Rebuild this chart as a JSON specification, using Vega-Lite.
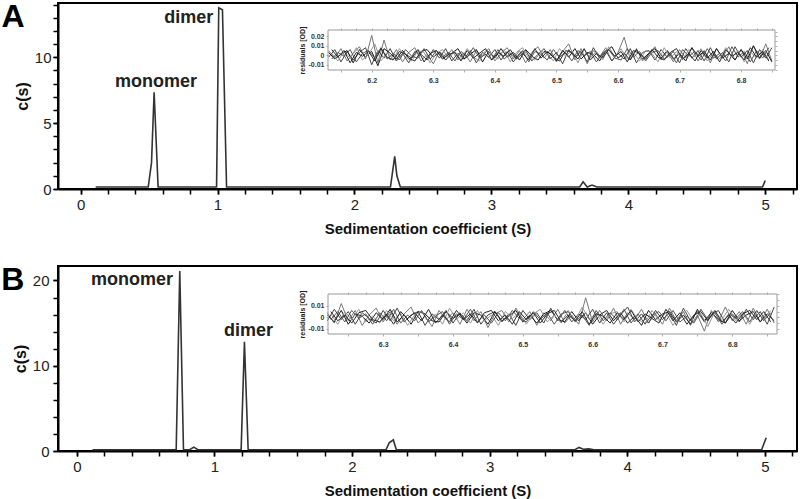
{
  "$schema": "https://vega.github.io/schema/vega-lite/v6.json",
  "background": "white",
  "padding": {"left": 0, "top": -1, "right": 2, "bottom": 0},
  "spacing": 26,
  "config": {
    "font": "Liberation Sans",
    "view": {"stroke": "black", "strokeWidth": 2},
    "axis": {
      "grid": false,
      "domainColor": "black",
      "domainWidth": 2,
      "tickColor": "black",
      "tickWidth": 1.5,
      "tickSize": 5,
      "labelFont": "Liberation Sans",
      "labelFontSize": 15,
      "labelColor": "#222222",
      "titleFont": "Liberation Sans",
      "titleFontSize": 15,
      "titleFontWeight": "bold",
      "titleColor": "#111111"
    }
  },
  "datasets": {
    "mainA": [
      {"s": 0.11, "c": 0.15}, {"s": 0.494, "c": 0.15}, {"s": 0.518, "c": 2.0}, {"s": 0.537, "c": 7.34}, {"s": 0.566, "c": 0.15},
      {"s": 0.993, "c": 0.15}, {"s": 1.009, "c": 13.75}, {"s": 1.036, "c": 13.6}, {"s": 1.066, "c": 0.15},
      {"s": 2.263, "c": 0.15}, {"s": 2.294, "c": 2.48}, {"s": 2.31, "c": 1.0}, {"s": 2.335, "c": 0.15},
      {"s": 3.645, "c": 0.15}, {"s": 3.67, "c": 0.55}, {"s": 3.7, "c": 0.15}, {"s": 3.735, "c": 0.3}, {"s": 3.77, "c": 0.15},
      {"s": 4.98, "c": 0.15}, {"s": 5.0, "c": 0.65}
    ],
    "mainB": [
      {"s": 0.114, "c": 0.15}, {"s": 0.722, "c": 0.15}, {"s": 0.748, "c": 21.1}, {"s": 0.775, "c": 0.15},
      {"s": 0.82, "c": 0.15}, {"s": 0.85, "c": 0.45}, {"s": 0.88, "c": 0.15},
      {"s": 1.194, "c": 0.15}, {"s": 1.218, "c": 12.8}, {"s": 1.245, "c": 0.15},
      {"s": 2.247, "c": 0.15}, {"s": 2.27, "c": 0.95}, {"s": 2.3, "c": 1.3}, {"s": 2.322, "c": 0.15},
      {"s": 3.62, "c": 0.15}, {"s": 3.65, "c": 0.42}, {"s": 3.68, "c": 0.2}, {"s": 3.72, "c": 0.25}, {"s": 3.76, "c": 0.15},
      {"s": 4.977, "c": 0.15}, {"s": 5.01, "c": 1.56}
    ],
    "labA": [
      {"s": 0.55, "c": 8.1, "label": "monomer"},
      {"s": 0.79, "c": 13.0, "label": "dimer"}
    ],
    "labB": [
      {"s": 0.40, "c": 20.0, "label": "monomer"},
      {"s": 1.247, "c": 14.07, "label": "dimer"}
    ],
    "panA": [{"s": -0.494, "c": 12.3, "label": "A"}],
    "panB": [{"s": -0.466, "c": 18.88, "label": "B"}],
    "resA": [
      {"s": 6.13, "a": 0.005, "b": -0.002, "c": 0.003},
      {"s": 6.14, "a": -0.003, "b": 0.006, "c": -0.004},
      {"s": 6.15, "a": 0.007, "b": -0.007, "c": 0.001},
      {"s": 6.16, "a": -0.006, "b": 0.004, "c": 0.005},
      {"s": 6.17, "a": 0.002, "b": -0.005, "c": -0.008},
      {"s": 6.18, "a": 0.009, "b": 0.003, "c": 0.006},
      {"s": 6.19, "a": -0.004, "b": 0.008, "c": -0.002},
      {"s": 6.2, "a": 0.021, "b": -0.01, "c": 0.004},
      {"s": 6.21, "a": -0.008, "b": 0.005, "c": -0.011},
      {"s": 6.22, "a": 0.016, "b": -0.003, "c": 0.007},
      {"s": 6.23, "a": -0.005, "b": 0.007, "c": 0.002},
      {"s": 6.24, "a": 0.006, "b": -0.006, "c": -0.004},
      {"s": 6.25, "a": -0.007, "b": 0.002, "c": 0.005},
      {"s": 6.26, "a": 0.003, "b": -0.008, "c": -0.003},
      {"s": 6.27, "a": 0.008, "b": 0.004, "c": -0.006},
      {"s": 6.28, "a": -0.006, "b": 0.001, "c": 0.004},
      {"s": 6.29, "a": 0.001, "b": -0.005, "c": 0.006},
      {"s": 6.3, "a": -0.009, "b": 0.006, "c": -0.002},
      {"s": 6.31, "a": 0.004, "b": -0.003, "c": 0.003},
      {"s": 6.32, "a": -0.002, "b": 0.007, "c": -0.005},
      {"s": 6.33, "a": 0.006, "b": -0.006, "c": 0.002},
      {"s": 6.34, "a": -0.005, "b": 0.002, "c": 0.007},
      {"s": 6.35, "a": 0.003, "b": -0.004, "c": -0.004},
      {"s": 6.36, "a": -0.007, "b": 0.005, "c": 0.001},
      {"s": 6.37, "a": 0.005, "b": -0.008, "c": 0.006},
      {"s": 6.38, "a": -0.001, "b": 0.003, "c": -0.007},
      {"s": 6.39, "a": 0.007, "b": -0.002, "c": 0.004},
      {"s": 6.4, "a": -0.006, "b": 0.006, "c": -0.003},
      {"s": 6.41, "a": 0.002, "b": -0.005, "c": 0.007},
      {"s": 6.42, "a": 0.008, "b": 0.004, "c": -0.002},
      {"s": 6.43, "a": -0.004, "b": -0.007, "c": 0.003},
      {"s": 6.44, "a": 0.005, "b": 0.002, "c": -0.005},
      {"s": 6.45, "a": -0.008, "b": 0.005, "c": 0.006},
      {"s": 6.46, "a": 0.003, "b": -0.006, "c": -0.001},
      {"s": 6.47, "a": 0.009, "b": 0.001, "c": -0.005},
      {"s": 6.48, "a": -0.003, "b": 0.007, "c": 0.004},
      {"s": 6.49, "a": 0.006, "b": -0.004, "c": 0.002},
      {"s": 6.5, "a": -0.007, "b": 0.003, "c": -0.006},
      {"s": 6.51, "a": 0.004, "b": -0.009, "c": 0.005},
      {"s": 6.52, "a": 0.012, "b": 0.006, "c": -0.002},
      {"s": 6.53, "a": -0.005, "b": -0.002, "c": 0.007},
      {"s": 6.54, "a": 0.007, "b": 0.004, "c": -0.004},
      {"s": 6.55, "a": -0.009, "b": -0.007, "c": 0.003},
      {"s": 6.56, "a": 0.005, "b": 0.008, "c": 0.001},
      {"s": 6.57, "a": -0.002, "b": -0.003, "c": -0.006},
      {"s": 6.58, "a": 0.008, "b": 0.005, "c": 0.004},
      {"s": 6.59, "a": -0.006, "b": -0.006, "c": 0.009},
      {"s": 6.6, "a": 0.003, "b": 0.002, "c": -0.003},
      {"s": 6.61, "a": 0.019, "b": -0.004, "c": 0.002},
      {"s": 6.62, "a": -0.004, "b": 0.007, "c": -0.005},
      {"s": 6.63, "a": 0.007, "b": -0.008, "c": 0.006},
      {"s": 6.64, "a": -0.006, "b": 0.003, "c": -0.004},
      {"s": 6.65, "a": 0.002, "b": 0.005, "c": 0.002},
      {"s": 6.66, "a": 0.009, "b": -0.005, "c": 0.007},
      {"s": 6.67, "a": -0.005, "b": 0.006, "c": -0.003},
      {"s": 6.68, "a": 0.004, "b": -0.002, "c": 0.005},
      {"s": 6.69, "a": -0.007, "b": 0.004, "c": -0.004},
      {"s": 6.7, "a": 0.006, "b": -0.008, "c": 0.002},
      {"s": 6.71, "a": -0.003, "b": 0.007, "c": -0.006},
      {"s": 6.72, "a": 0.008, "b": -0.003, "c": 0.008},
      {"s": 6.73, "a": -0.006, "b": 0.005, "c": -0.001},
      {"s": 6.74, "a": 0.005, "b": -0.006, "c": 0.004},
      {"s": 6.75, "a": -0.008, "b": 0.008, "c": -0.005},
      {"s": 6.76, "a": 0.007, "b": -0.004, "c": 0.007},
      {"s": 6.77, "a": -0.002, "b": 0.003, "c": -0.003},
      {"s": 6.78, "a": 0.009, "b": -0.007, "c": 0.002},
      {"s": 6.79, "a": -0.005, "b": 0.009, "c": -0.005},
      {"s": 6.8, "a": 0.006, "b": -0.002, "c": 0.006},
      {"s": 6.81, "a": -0.009, "b": 0.005, "c": -0.004},
      {"s": 6.82, "a": 0.01, "b": -0.008, "c": 0.01},
      {"s": 6.83, "a": -0.004, "b": 0.006, "c": -0.003},
      {"s": 6.84, "a": 0.012, "b": -0.003, "c": 0.005},
      {"s": 6.85, "a": -0.006, "b": 0.008, "c": -0.007}
    ],
    "resA2": [
      {"s": 6.135, "d": 0.002, "e": -0.004, "f": 0.006},
      {"s": 6.145, "d": -0.006, "e": 0.003, "f": -0.002},
      {"s": 6.155, "d": 0.004, "e": -0.001, "f": 0.005},
      {"s": 6.165, "d": -0.003, "e": 0.006, "f": -0.008},
      {"s": 6.175, "d": 0.008, "e": -0.007, "f": 0.003},
      {"s": 6.185, "d": -0.005, "e": 0.002, "f": -0.001},
      {"s": 6.195, "d": 0.001, "e": 0.005, "f": 0.004},
      {"s": 6.205, "d": 0.012, "e": -0.003, "f": -0.006},
      {"s": 6.215, "d": -0.006, "e": 0.008, "f": 0.007},
      {"s": 6.225, "d": 0.003, "e": -0.004, "f": -0.002},
      {"s": 6.235, "d": -0.004, "e": 0.002, "f": -0.005},
      {"s": 6.245, "d": 0.007, "e": -0.005, "f": 0.004},
      {"s": 6.255, "d": -0.002, "e": 0.006, "f": 0.001},
      {"s": 6.265, "d": -0.006, "e": -0.001, "f": -0.003},
      {"s": 6.275, "d": 0.005, "e": -0.003, "f": 0.006},
      {"s": 6.285, "d": 0.003, "e": 0.007, "f": -0.007},
      {"s": 6.295, "d": -0.008, "e": -0.004, "f": 0.002},
      {"s": 6.305, "d": 0.002, "e": 0.005, "f": 0.005},
      {"s": 6.315, "d": 0.006, "e": -0.002, "f": -0.004},
      {"s": 6.325, "d": -0.003, "e": 0.003, "f": 0.001},
      {"s": 6.335, "d": 0.004, "e": -0.006, "f": 0.003},
      {"s": 6.345, "d": -0.005, "e": 0.004, "f": -0.006},
      {"s": 6.355, "d": 0.007, "e": -0.002, "f": 0.005},
      {"s": 6.365, "d": -0.002, "e": 0.008, "f": -0.003},
      {"s": 6.375, "d": -0.006, "e": -0.003, "f": 0.002},
      {"s": 6.385, "d": 0.005, "e": 0.001, "f": 0.007},
      {"s": 6.395, "d": 0.001, "e": -0.005, "f": -0.005},
      {"s": 6.405, "d": -0.004, "e": 0.006, "f": 0.003},
      {"s": 6.415, "d": 0.006, "e": -0.004, "f": -0.001},
      {"s": 6.425, "d": -0.007, "e": 0.002, "f": 0.006},
      {"s": 6.435, "d": 0.003, "e": -0.003, "f": -0.004},
      {"s": 6.445, "d": 0.008, "e": 0.005, "f": 0.002},
      {"s": 6.455, "d": -0.003, "e": -0.007, "f": -0.005},
      {"s": 6.465, "d": -0.005, "e": 0.004, "f": 0.007},
      {"s": 6.475, "d": 0.004, "e": 0.001, "f": -0.003},
      {"s": 6.485, "d": 0.002, "e": -0.005, "f": 0.004},
      {"s": 6.495, "d": -0.006, "e": 0.006, "f": -0.002},
      {"s": 6.505, "d": 0.007, "e": -0.002, "f": -0.006},
      {"s": 6.515, "d": -0.001, "e": 0.003, "f": 0.005},
      {"s": 6.525, "d": 0.005, "e": -0.006, "f": 0.003},
      {"s": 6.535, "d": -0.008, "e": 0.005, "f": -0.004},
      {"s": 6.545, "d": 0.006, "e": -0.001, "f": 0.007},
      {"s": 6.555, "d": -0.003, "e": 0.004, "f": -0.005},
      {"s": 6.565, "d": 0.004, "e": -0.007, "f": 0.002},
      {"s": 6.575, "d": -0.005, "e": 0.002, "f": -0.003},
      {"s": 6.585, "d": 0.009, "e": 0.006, "f": 0.006},
      {"s": 6.595, "d": -0.002, "e": -0.003, "f": -0.001},
      {"s": 6.605, "d": 0.007, "e": -0.005, "f": 0.004},
      {"s": 6.615, "d": -0.004, "e": 0.007, "f": -0.007},
      {"s": 6.625, "d": 0.003, "e": -0.002, "f": 0.005},
      {"s": 6.635, "d": -0.006, "e": 0.004, "f": 0.002},
      {"s": 6.645, "d": 0.005, "e": -0.006, "f": -0.004},
      {"s": 6.655, "d": 0.002, "e": 0.003, "f": 0.006},
      {"s": 6.665, "d": -0.007, "e": 0.005, "f": -0.002},
      {"s": 6.675, "d": 0.008, "e": -0.004, "f": -0.005},
      {"s": 6.685, "d": -0.003, "e": 0.002, "f": 0.003},
      {"s": 6.695, "d": 0.004, "e": -0.008, "f": 0.007},
      {"s": 6.705, "d": -0.005, "e": 0.006, "f": -0.004},
      {"s": 6.715, "d": 0.006, "e": -0.001, "f": 0.002},
      {"s": 6.725, "d": -0.002, "e": 0.004, "f": -0.006},
      {"s": 6.735, "d": 0.007, "e": -0.005, "f": 0.005},
      {"s": 6.745, "d": -0.006, "e": 0.007, "f": -0.003},
      {"s": 6.755, "d": 0.003, "e": -0.003, "f": 0.004},
      {"s": 6.765, "d": -0.004, "e": 0.002, "f": -0.007},
      {"s": 6.775, "d": 0.008, "e": -0.006, "f": 0.006},
      {"s": 6.785, "d": -0.002, "e": 0.009, "f": -0.001},
      {"s": 6.795, "d": 0.005, "e": -0.002, "f": 0.003},
      {"s": 6.805, "d": -0.007, "e": 0.004, "f": -0.005},
      {"s": 6.815, "d": 0.004, "e": -0.007, "f": 0.008},
      {"s": 6.825, "d": -0.003, "e": 0.005, "f": -0.002},
      {"s": 6.835, "d": 0.006, "e": -0.003, "f": 0.004},
      {"s": 6.845, "d": -0.005, "e": 0.008, "f": -0.006}
    ],
    "resB": [
      {"s": 6.22, "a": 0.004, "b": -0.003, "c": 0.002},
      {"s": 6.23, "a": -0.005, "b": 0.007, "c": -0.004},
      {"s": 6.24, "a": 0.012, "b": -0.002, "c": 0.006},
      {"s": 6.25, "a": -0.003, "b": 0.005, "c": -0.006},
      {"s": 6.26, "a": 0.006, "b": -0.006, "c": 0.003},
      {"s": 6.27, "a": -0.007, "b": 0.004, "c": 0.001},
      {"s": 6.28, "a": 0.002, "b": -0.001, "c": -0.005},
      {"s": 6.29, "a": 0.008, "b": -0.005, "c": 0.004},
      {"s": 6.3, "a": -0.004, "b": 0.006, "c": -0.002},
      {"s": 6.31, "a": 0.005, "b": -0.003, "c": 0.007},
      {"s": 6.32, "a": -0.006, "b": 0.008, "c": -0.004},
      {"s": 6.33, "a": 0.003, "b": -0.004, "c": 0.002},
      {"s": 6.34, "a": 0.009, "b": 0.002, "c": -0.006},
      {"s": 6.35, "a": -0.005, "b": 0.005, "c": 0.005},
      {"s": 6.36, "a": 0.001, "b": -0.007, "c": 0.003},
      {"s": 6.37, "a": -0.008, "b": 0.003, "c": -0.003},
      {"s": 6.38, "a": 0.006, "b": -0.002, "c": -0.004},
      {"s": 6.39, "a": -0.002, "b": 0.006, "c": 0.005},
      {"s": 6.4, "a": 0.004, "b": -0.005, "c": -0.001},
      {"s": 6.41, "a": -0.006, "b": 0.004, "c": 0.003},
      {"s": 6.42, "a": 0.007, "b": -0.003, "c": -0.005},
      {"s": 6.43, "a": -0.003, "b": 0.007, "c": 0.004},
      {"s": 6.44, "a": 0.005, "b": -0.006, "c": 0.002},
      {"s": 6.45, "a": -0.009, "b": 0.002, "c": -0.006},
      {"s": 6.46, "a": 0.003, "b": 0.005, "c": 0.005},
      {"s": 6.47, "a": 0.006, "b": -0.004, "c": -0.003},
      {"s": 6.48, "a": -0.004, "b": 0.003, "c": 0.001},
      {"s": 6.49, "a": 0.008, "b": -0.007, "c": 0.006},
      {"s": 6.5, "a": -0.002, "b": 0.006, "c": -0.004},
      {"s": 6.51, "a": 0.005, "b": -0.002, "c": 0.002},
      {"s": 6.52, "a": -0.007, "b": 0.004, "c": -0.005},
      {"s": 6.53, "a": 0.004, "b": -0.005, "c": 0.003},
      {"s": 6.54, "a": -0.003, "b": 0.008, "c": 0.006},
      {"s": 6.55, "a": 0.007, "b": -0.003, "c": -0.002},
      {"s": 6.56, "a": -0.005, "b": 0.006, "c": -0.004},
      {"s": 6.57, "a": 0.002, "b": -0.004, "c": 0.005},
      {"s": 6.58, "a": -0.006, "b": 0.003, "c": -0.003},
      {"s": 6.59, "a": 0.017, "b": -0.002, "c": 0.004},
      {"s": 6.6, "a": -0.004, "b": 0.007, "c": -0.006},
      {"s": 6.61, "a": 0.006, "b": -0.005, "c": 0.002},
      {"s": 6.62, "a": -0.003, "b": 0.004, "c": 0.006},
      {"s": 6.63, "a": 0.008, "b": -0.006, "c": -0.003},
      {"s": 6.64, "a": -0.006, "b": 0.002, "c": 0.004},
      {"s": 6.65, "a": 0.004, "b": 0.009, "c": -0.005},
      {"s": 6.66, "a": -0.002, "b": -0.004, "c": 0.001},
      {"s": 6.67, "a": 0.007, "b": 0.003, "c": -0.007},
      {"s": 6.68, "a": -0.005, "b": -0.005, "c": 0.006},
      {"s": 6.69, "a": 0.003, "b": 0.006, "c": -0.002},
      {"s": 6.7, "a": -0.006, "b": -0.002, "c": 0.003},
      {"s": 6.71, "a": 0.008, "b": 0.004, "c": 0.005},
      {"s": 6.72, "a": -0.003, "b": -0.007, "c": -0.004},
      {"s": 6.73, "a": 0.005, "b": 0.008, "c": 0.002},
      {"s": 6.74, "a": -0.007, "b": -0.003, "c": -0.006},
      {"s": 6.75, "a": 0.002, "b": 0.005, "c": 0.007},
      {"s": 6.76, "a": -0.012, "b": -0.004, "c": -0.003},
      {"s": 6.77, "a": 0.006, "b": 0.002, "c": 0.004},
      {"s": 6.78, "a": -0.004, "b": 0.006, "c": -0.002},
      {"s": 6.79, "a": 0.009, "b": -0.005, "c": -0.005},
      {"s": 6.8, "a": -0.003, "b": 0.003, "c": 0.006},
      {"s": 6.81, "a": 0.005, "b": -0.004, "c": -0.003},
      {"s": 6.82, "a": -0.006, "b": 0.007, "c": 0.002},
      {"s": 6.83, "a": 0.008, "b": -0.002, "c": 0.005},
      {"s": 6.84, "a": -0.004, "b": 0.005, "c": -0.004},
      {"s": 6.85, "a": 0.007, "b": -0.006, "c": 0.003},
      {"s": 6.86, "a": -0.005, "b": 0.009, "c": -0.003}
    ],
    "resB2": [
      {"s": 6.225, "d": 0.003, "e": -0.002, "f": 0.005},
      {"s": 6.235, "d": -0.006, "e": 0.005, "f": -0.003},
      {"s": 6.245, "d": 0.005, "e": -0.004, "f": 0.002},
      {"s": 6.255, "d": -0.002, "e": 0.006, "f": -0.005},
      {"s": 6.265, "d": 0.007, "e": -0.001, "f": 0.004},
      {"s": 6.275, "d": -0.004, "e": 0.003, "f": 0.006},
      {"s": 6.285, "d": 0.001, "e": -0.006, "f": -0.002},
      {"s": 6.295, "d": -0.005, "e": 0.004, "f": -0.004},
      {"s": 6.305, "d": 0.006, "e": -0.003, "f": 0.003},
      {"s": 6.315, "d": -0.003, "e": 0.007, "f": -0.006},
      {"s": 6.325, "d": 0.004, "e": -0.005, "f": 0.005},
      {"s": 6.335, "d": -0.007, "e": 0.002, "f": -0.001},
      {"s": 6.345, "d": 0.002, "e": -0.003, "f": 0.004},
      {"s": 6.355, "d": 0.005, "e": 0.006, "f": -0.003},
      {"s": 6.365, "d": -0.004, "e": -0.004, "f": 0.007},
      {"s": 6.375, "d": 0.003, "e": 0.001, "f": -0.005},
      {"s": 6.385, "d": -0.006, "e": 0.005, "f": 0.002},
      {"s": 6.395, "d": 0.008, "e": -0.006, "f": -0.004},
      {"s": 6.405, "d": -0.002, "e": 0.003, "f": 0.006},
      {"s": 6.415, "d": 0.004, "e": -0.002, "f": -0.002},
      {"s": 6.425, "d": -0.005, "e": 0.007, "f": 0.003},
      {"s": 6.435, "d": 0.006, "e": -0.004, "f": -0.005},
      {"s": 6.445, "d": -0.003, "e": 0.002, "f": 0.004},
      {"s": 6.455, "d": 0.002, "e": -0.005, "f": 0.006},
      {"s": 6.465, "d": -0.007, "e": 0.004, "f": -0.003},
      {"s": 6.475, "d": 0.005, "e": -0.003, "f": 0.002},
      {"s": 6.485, "d": -0.001, "e": 0.006, "f": -0.006},
      {"s": 6.495, "d": 0.004, "e": -0.001, "f": 0.005},
      {"s": 6.505, "d": -0.006, "e": -0.004, "f": -0.002},
      {"s": 6.515, "d": 0.003, "e": 0.005, "f": 0.004},
      {"s": 6.525, "d": 0.007, "e": -0.002, "f": -0.005},
      {"s": 6.535, "d": -0.004, "e": 0.004, "f": 0.003},
      {"s": 6.545, "d": 0.002, "e": -0.006, "f": 0.006},
      {"s": 6.555, "d": -0.005, "e": 0.003, "f": -0.004},
      {"s": 6.565, "d": 0.006, "e": 0.005, "f": 0.002},
      {"s": 6.575, "d": -0.003, "e": -0.004, "f": -0.003},
      {"s": 6.585, "d": 0.009, "e": 0.002, "f": 0.005},
      {"s": 6.595, "d": -0.002, "e": -0.007, "f": -0.006},
      {"s": 6.605, "d": 0.004, "e": 0.006, "f": 0.003},
      {"s": 6.615, "d": -0.006, "e": -0.003, "f": 0.001},
      {"s": 6.625, "d": 0.003, "e": 0.004, "f": -0.005},
      {"s": 6.635, "d": 0.005, "e": -0.002, "f": 0.004},
      {"s": 6.645, "d": -0.004, "e": 0.007, "f": -0.002},
      {"s": 6.655, "d": 0.007, "e": -0.005, "f": 0.006},
      {"s": 6.665, "d": -0.002, "e": 0.003, "f": -0.004},
      {"s": 6.675, "d": -0.005, "e": -0.006, "f": 0.003},
      {"s": 6.685, "d": 0.006, "e": 0.002, "f": -0.001},
      {"s": 6.695, "d": -0.003, "e": 0.005, "f": -0.005},
      {"s": 6.705, "d": 0.004, "e": -0.003, "f": 0.007},
      {"s": 6.715, "d": -0.007, "e": 0.006, "f": -0.003},
      {"s": 6.725, "d": 0.002, "e": -0.004, "f": 0.004},
      {"s": 6.735, "d": 0.006, "e": 0.001, "f": -0.006},
      {"s": 6.745, "d": -0.004, "e": -0.005, "f": 0.002},
      {"s": 6.755, "d": 0.003, "e": 0.007, "f": 0.005},
      {"s": 6.765, "d": -0.008, "e": -0.002, "f": -0.003},
      {"s": 6.775, "d": 0.005, "e": 0.004, "f": 0.006},
      {"s": 6.785, "d": -0.002, "e": -0.006, "f": -0.004},
      {"s": 6.795, "d": 0.007, "e": 0.003, "f": 0.002},
      {"s": 6.805, "d": -0.003, "e": -0.001, "f": -0.005},
      {"s": 6.815, "d": 0.004, "e": 0.005, "f": 0.003},
      {"s": 6.825, "d": -0.006, "e": -0.004, "f": 0.006},
      {"s": 6.835, "d": 0.005, "e": 0.006, "f": -0.002},
      {"s": 6.845, "d": -0.002, "e": -0.003, "f": 0.005},
      {"s": 6.855, "d": 0.006, "e": 0.004, "f": -0.004}
    ]
  },
  "vconcat": [
    {
      "width": 739,
      "height": 186,
      "layer": [
        {
          "layer": [
            {
              "data": {"name": "mainA"},
              "mark": {"type": "line", "stroke": "#333333", "strokeWidth": 1.6},
              "encoding": {
                "x": {"field": "s", "type": "quantitative",
                  "scale": {"domain": [-0.165, 5.232], "nice": false, "zero": false},
                  "axis": {"orient": "bottom", "title": "Sedimentation coefficient (S)",
                    "values": [0, 1, 2, 3, 4, 5], "format": "d",
                    "labelPadding": 3, "titlePadding": 9, "labelFlush": false}},
                "y": {"field": "c", "type": "quantitative",
                  "scale": {"domain": [0, 14.12], "nice": false, "zero": false},
                  "axis": {"orient": "left", "title": "c(s)", "titleFontSize": 16, "titlePadding": 4,
                    "values": [0, 5, 10], "format": "d", "labelPadding": 2}}
              }
            },
            {
              "data": {"name": "labA"},
              "mark": {"type": "text", "fontSize": 18, "fontWeight": "bold", "color": "#222222", "align": "center", "baseline": "middle", "font": "Liberation Sans"},
              "encoding": {
                "x": {"field": "s", "type": "quantitative"},
                "y": {"field": "c", "type": "quantitative"},
                "text": {"field": "label"}
              }
            },
            {
              "data": {"name": "panA"},
              "mark": {"type": "text", "fontSize": 32, "fontWeight": "bold", "color": "black", "align": "center", "baseline": "alphabetic", "font": "Liberation Sans"},
              "encoding": {
                "x": {"field": "s", "type": "quantitative"},
                "y": {"field": "c", "type": "quantitative"},
                "text": {"field": "label"}
              }
            }
          ]
        },
        {
          "data": {"name": "mainA"},
          "mark": {"type": "point", "opacity": 0},
          "encoding": {
            "x": {"field": "s", "type": "quantitative",
              "scale": {"domain": [-0.165, 5.232], "nice": false, "zero": false},
              "axis": {"orient": "bottom", "title": null, "labels": false, "domain": false,
                "values": [0, 0.2, 0.4, 0.6, 0.8, 1, 1.2, 1.4, 1.6, 1.8, 2, 2.2, 2.4, 2.6, 2.8, 3, 3.2, 3.4, 3.6, 3.8, 4, 4.2, 4.4, 4.6, 4.8, 5, 5.2]}},
            "y": {"field": "c", "type": "quantitative",
              "scale": {"domain": [0, 14.12], "nice": false, "zero": false},
              "axis": {"orient": "left", "title": null, "labels": false, "domain": false,
                "values": [0, 1, 2, 3, 4, 5, 6, 7, 8, 9, 10, 11, 12, 13, 14]}}
          }
        },
        {
          "data": {"name": "resA"},
          "mark": {"type": "point", "opacity": 0},
          "encoding": {
            "x": {"field": "s", "type": "quantitative",
              "scale": {"domain": [6.129, 6.855], "range": [270, 717], "nice": false, "zero": false},
              "axis": {"orient": "top", "offset": -27, "title": null, "labels": false, "domain": false,
                "values": [6.15, 6.175, 6.2, 6.225, 6.25, 6.275, 6.3, 6.325, 6.35, 6.375, 6.4, 6.425, 6.45, 6.475, 6.5, 6.525, 6.55, 6.575, 6.6, 6.625, 6.65, 6.675, 6.7, 6.725, 6.75, 6.775, 6.8, 6.825, 6.85],
                "tickSize": 2, "tickWidth": 0.8, "tickColor": "#999999"}},
            "y": {"field": "a", "type": "quantitative",
              "scale": {"domain": [-0.0155, 0.0266], "range": [67, 27], "nice": false, "zero": false},
              "axis": {"orient": "right", "offset": -22, "title": null, "labels": false, "domain": false,
                "values": [-0.015, -0.01, -0.005, 0, 0.005, 0.01, 0.015, 0.02, 0.025],
                "tickSize": 2, "tickWidth": 0.8, "tickColor": "#999999"}}
          }
        },
        {
          "layer": [
            {
              "data": {"name": "resA"},
              "transform": [{"fold": ["a", "b", "c"], "as": ["trace", "r"]}],
              "mark": {"type": "line", "strokeWidth": 1},
              "encoding": {
                "x": {"field": "s", "type": "quantitative",
                  "scale": {"domain": [6.129, 6.855], "range": [270, 717], "nice": false, "zero": false},
                  "axis": {"orient": "bottom", "offset": -119, "title": null, "domain": false,
                    "values": [6.15, 6.175, 6.2, 6.225, 6.25, 6.275, 6.3, 6.325, 6.35, 6.375, 6.4, 6.425, 6.45, 6.475, 6.5, 6.525, 6.55, 6.575, 6.6, 6.625, 6.65, 6.675, 6.7, 6.725, 6.75, 6.775, 6.8, 6.825, 6.85],
                    "labelExpr": "abs(datum.value * 10 - round(datum.value * 10)) < 0.01 ? format(datum.value, '.1f') : ''",
                    "tickSize": 2, "tickWidth": 0.8, "tickColor": "#999999",
                    "labelFontSize": 7, "labelFontWeight": "bold", "labelColor": "#333333", "labelPadding": 4, "labelFlush": false, "labelOverlap": false}},
                "y": {"field": "r", "type": "quantitative",
                  "scale": {"domain": [-0.0155, 0.0266], "range": [67, 27], "nice": false, "zero": false},
                  "axis": {"orient": "left", "offset": -270, "title": "residuals [OD]", "domain": false,
                    "values": [-0.01, 0, 0.01, 0.02],
                    "labelExpr": "datum.value < 0 ? '-' + format(-datum.value, '.2~f') : format(datum.value, '.2~f')",
                    "tickSize": 2, "tickWidth": 0.8, "tickColor": "#999999",
                    "labelFontSize": 7, "labelFontWeight": "bold", "labelColor": "#333333", "labelPadding": 2,
                    "titleFontSize": 7, "titleFontWeight": "bold", "titleColor": "#222222", "titlePadding": 3}},
                "color": {"field": "trace", "type": "nominal",
                  "scale": {"domain": ["a", "b", "c", "d", "e", "f"], "range": ["#777777", "#444444", "#1a1a1a", "#999999", "#555555", "#2a2a2a"]}, "legend": null}
              }
            },
            {
              "data": {"name": "resA2"},
              "transform": [{"fold": ["d", "e", "f"], "as": ["trace", "r"]}],
              "mark": {"type": "line", "strokeWidth": 1},
              "encoding": {
                "x": {"field": "s", "type": "quantitative"},
                "y": {"field": "r", "type": "quantitative"},
                "color": {"field": "trace", "type": "nominal", "legend": null}
              }
            },
            {
              "data": {"values": [{}]},
              "mark": {"type": "rect", "fill": "white", "fillOpacity": 0, "stroke": "#9a9a9a", "strokeWidth": 1},
              "encoding": {
                "x": {"datum": 6.129}, "x2": {"datum": 6.855},
                "y": {"datum": -0.0155}, "y2": {"datum": 0.0266}
              }
            }
          ]
        }
      ],
      "resolve": {"scale": {"x": "independent", "y": "independent"}, "axis": {"x": "independent", "y": "independent"}}
    },
    {
      "width": 739,
      "height": 185,
      "layer": [
        {
          "layer": [
            {
              "data": {"name": "mainB"},
              "mark": {"type": "line", "stroke": "#333333", "strokeWidth": 1.6},
              "encoding": {
                "x": {"field": "s", "type": "quantitative",
                  "scale": {"domain": [-0.137, 5.234], "nice": false, "zero": false},
                  "axis": {"orient": "bottom", "title": "Sedimentation coefficient (S)",
                    "values": [0, 1, 2, 3, 4, 5], "format": "d",
                    "labelPadding": 3, "titlePadding": 9, "labelFlush": false}},
                "y": {"field": "c", "type": "quantitative",
                  "scale": {"domain": [0, 21.7], "nice": false, "zero": false},
                  "axis": {"orient": "left", "title": "c(s)", "titleFontSize": 16, "titlePadding": 4,
                    "values": [0, 10, 20], "format": "d", "labelPadding": 4}}
              }
            },
            {
              "data": {"name": "labB"},
              "mark": {"type": "text", "fontSize": 18, "fontWeight": "bold", "color": "#222222", "align": "center", "baseline": "middle", "font": "Liberation Sans"},
              "encoding": {
                "x": {"field": "s", "type": "quantitative"},
                "y": {"field": "c", "type": "quantitative"},
                "text": {"field": "label"}
              }
            },
            {
              "data": {"name": "panB"},
              "mark": {"type": "text", "fontSize": 32, "fontWeight": "bold", "color": "black", "align": "center", "baseline": "alphabetic", "font": "Liberation Sans"},
              "encoding": {
                "x": {"field": "s", "type": "quantitative"},
                "y": {"field": "c", "type": "quantitative"},
                "text": {"field": "label"}
              }
            }
          ]
        },
        {
          "data": {"name": "mainB"},
          "mark": {"type": "point", "opacity": 0},
          "encoding": {
            "x": {"field": "s", "type": "quantitative",
              "scale": {"domain": [-0.137, 5.234], "nice": false, "zero": false},
              "axis": {"orient": "bottom", "title": null, "labels": false, "domain": false,
                "values": [0, 0.2, 0.4, 0.6, 0.8, 1, 1.2, 1.4, 1.6, 1.8, 2, 2.2, 2.4, 2.6, 2.8, 3, 3.2, 3.4, 3.6, 3.8, 4, 4.2, 4.4, 4.6, 4.8, 5, 5.2]}},
            "y": {"field": "c", "type": "quantitative",
              "scale": {"domain": [0, 21.7], "nice": false, "zero": false},
              "axis": {"orient": "left", "title": null, "labels": false, "domain": false,
                "values": [0, 2, 4, 6, 8, 10, 12, 14, 16, 18, 20]}}
          }
        },
        {
          "data": {"name": "resB"},
          "mark": {"type": "point", "opacity": 0},
          "encoding": {
            "x": {"field": "s", "type": "quantitative",
              "scale": {"domain": [6.221, 6.864], "range": [270, 719], "nice": false, "zero": false},
              "axis": {"orient": "top", "offset": -28, "title": null, "labels": false, "domain": false,
                "values": [6.25, 6.275, 6.3, 6.325, 6.35, 6.375, 6.4, 6.425, 6.45, 6.475, 6.5, 6.525, 6.55, 6.575, 6.6, 6.625, 6.65, 6.675, 6.7, 6.725, 6.75, 6.775, 6.8, 6.825, 6.85],
                "tickSize": 2, "tickWidth": 0.8, "tickColor": "#999999"}},
            "y": {"field": "a", "type": "quantitative",
              "scale": {"domain": [-0.0145, 0.0203], "range": [68, 28], "nice": false, "zero": false},
              "axis": {"orient": "right", "offset": -20, "title": null, "labels": false, "domain": false,
                "values": [-0.01, -0.005, 0, 0.005, 0.01, 0.015, 0.02],
                "tickSize": 2, "tickWidth": 0.8, "tickColor": "#999999"}}
          }
        },
        {
          "layer": [
            {
              "data": {"name": "resB"},
              "transform": [{"fold": ["a", "b", "c"], "as": ["trace", "r"]}],
              "mark": {"type": "line", "strokeWidth": 1},
              "encoding": {
                "x": {"field": "s", "type": "quantitative",
                  "scale": {"domain": [6.221, 6.864], "range": [270, 719], "nice": false, "zero": false},
                  "axis": {"orient": "bottom", "offset": -117, "title": null, "domain": false, "labels": true, "ticks": true,
                    "values": [6.25, 6.275, 6.3, 6.325, 6.35, 6.375, 6.4, 6.425, 6.45, 6.475, 6.5, 6.525, 6.55, 6.575, 6.6, 6.625, 6.65, 6.675, 6.7, 6.725, 6.75, 6.775, 6.8, 6.825, 6.85],
                    "labelExpr": "abs(datum.value * 10 - round(datum.value * 10)) < 0.01 ? format(datum.value, '.1f') : ''",
                    "tickSize": 2, "tickWidth": 0.8, "tickColor": "#999999",
                    "labelFontSize": 7, "labelFontWeight": "bold", "labelColor": "#333333", "labelPadding": 4, "labelFlush": false, "labelOverlap": false}},
                "y": {"field": "r", "type": "quantitative",
                  "scale": {"domain": [-0.0145, 0.0203], "range": [68, 28], "nice": false, "zero": false},
                  "axis": {"orient": "left", "offset": -270, "title": "residuals [OD]", "domain": false,
                    "values": [-0.01, 0, 0.01],
                    "labelExpr": "datum.value < 0 ? '-' + format(-datum.value, '.2~f') : format(datum.value, '.2~f')",
                    "tickSize": 2, "tickWidth": 0.8, "tickColor": "#999999",
                    "labelFontSize": 7, "labelFontWeight": "bold", "labelColor": "#333333", "labelPadding": 2,
                    "titleFontSize": 7, "titleFontWeight": "bold", "titleColor": "#222222", "titlePadding": 3}},
                "color": {"field": "trace", "type": "nominal",
                  "scale": {"domain": ["a", "b", "c", "d", "e", "f"], "range": ["#777777", "#444444", "#1a1a1a", "#999999", "#555555", "#2a2a2a"]}, "legend": null}
              }
            },
            {
              "data": {"name": "resB2"},
              "transform": [{"fold": ["d", "e", "f"], "as": ["trace", "r"]}],
              "mark": {"type": "line", "strokeWidth": 1},
              "encoding": {
                "x": {"field": "s", "type": "quantitative"},
                "y": {"field": "r", "type": "quantitative"},
                "color": {"field": "trace", "type": "nominal", "legend": null}
              }
            },
            {
              "data": {"values": [{}]},
              "mark": {"type": "rect", "fill": "white", "fillOpacity": 0, "stroke": "#9a9a9a", "strokeWidth": 1},
              "encoding": {
                "x": {"datum": 6.221}, "x2": {"datum": 6.864},
                "y": {"datum": -0.0145}, "y2": {"datum": 0.0203}
              }
            }
          ]
        }
      ],
      "resolve": {"scale": {"x": "independent", "y": "independent"}, "axis": {"x": "independent", "y": "independent"}}
    }
  ]
}
